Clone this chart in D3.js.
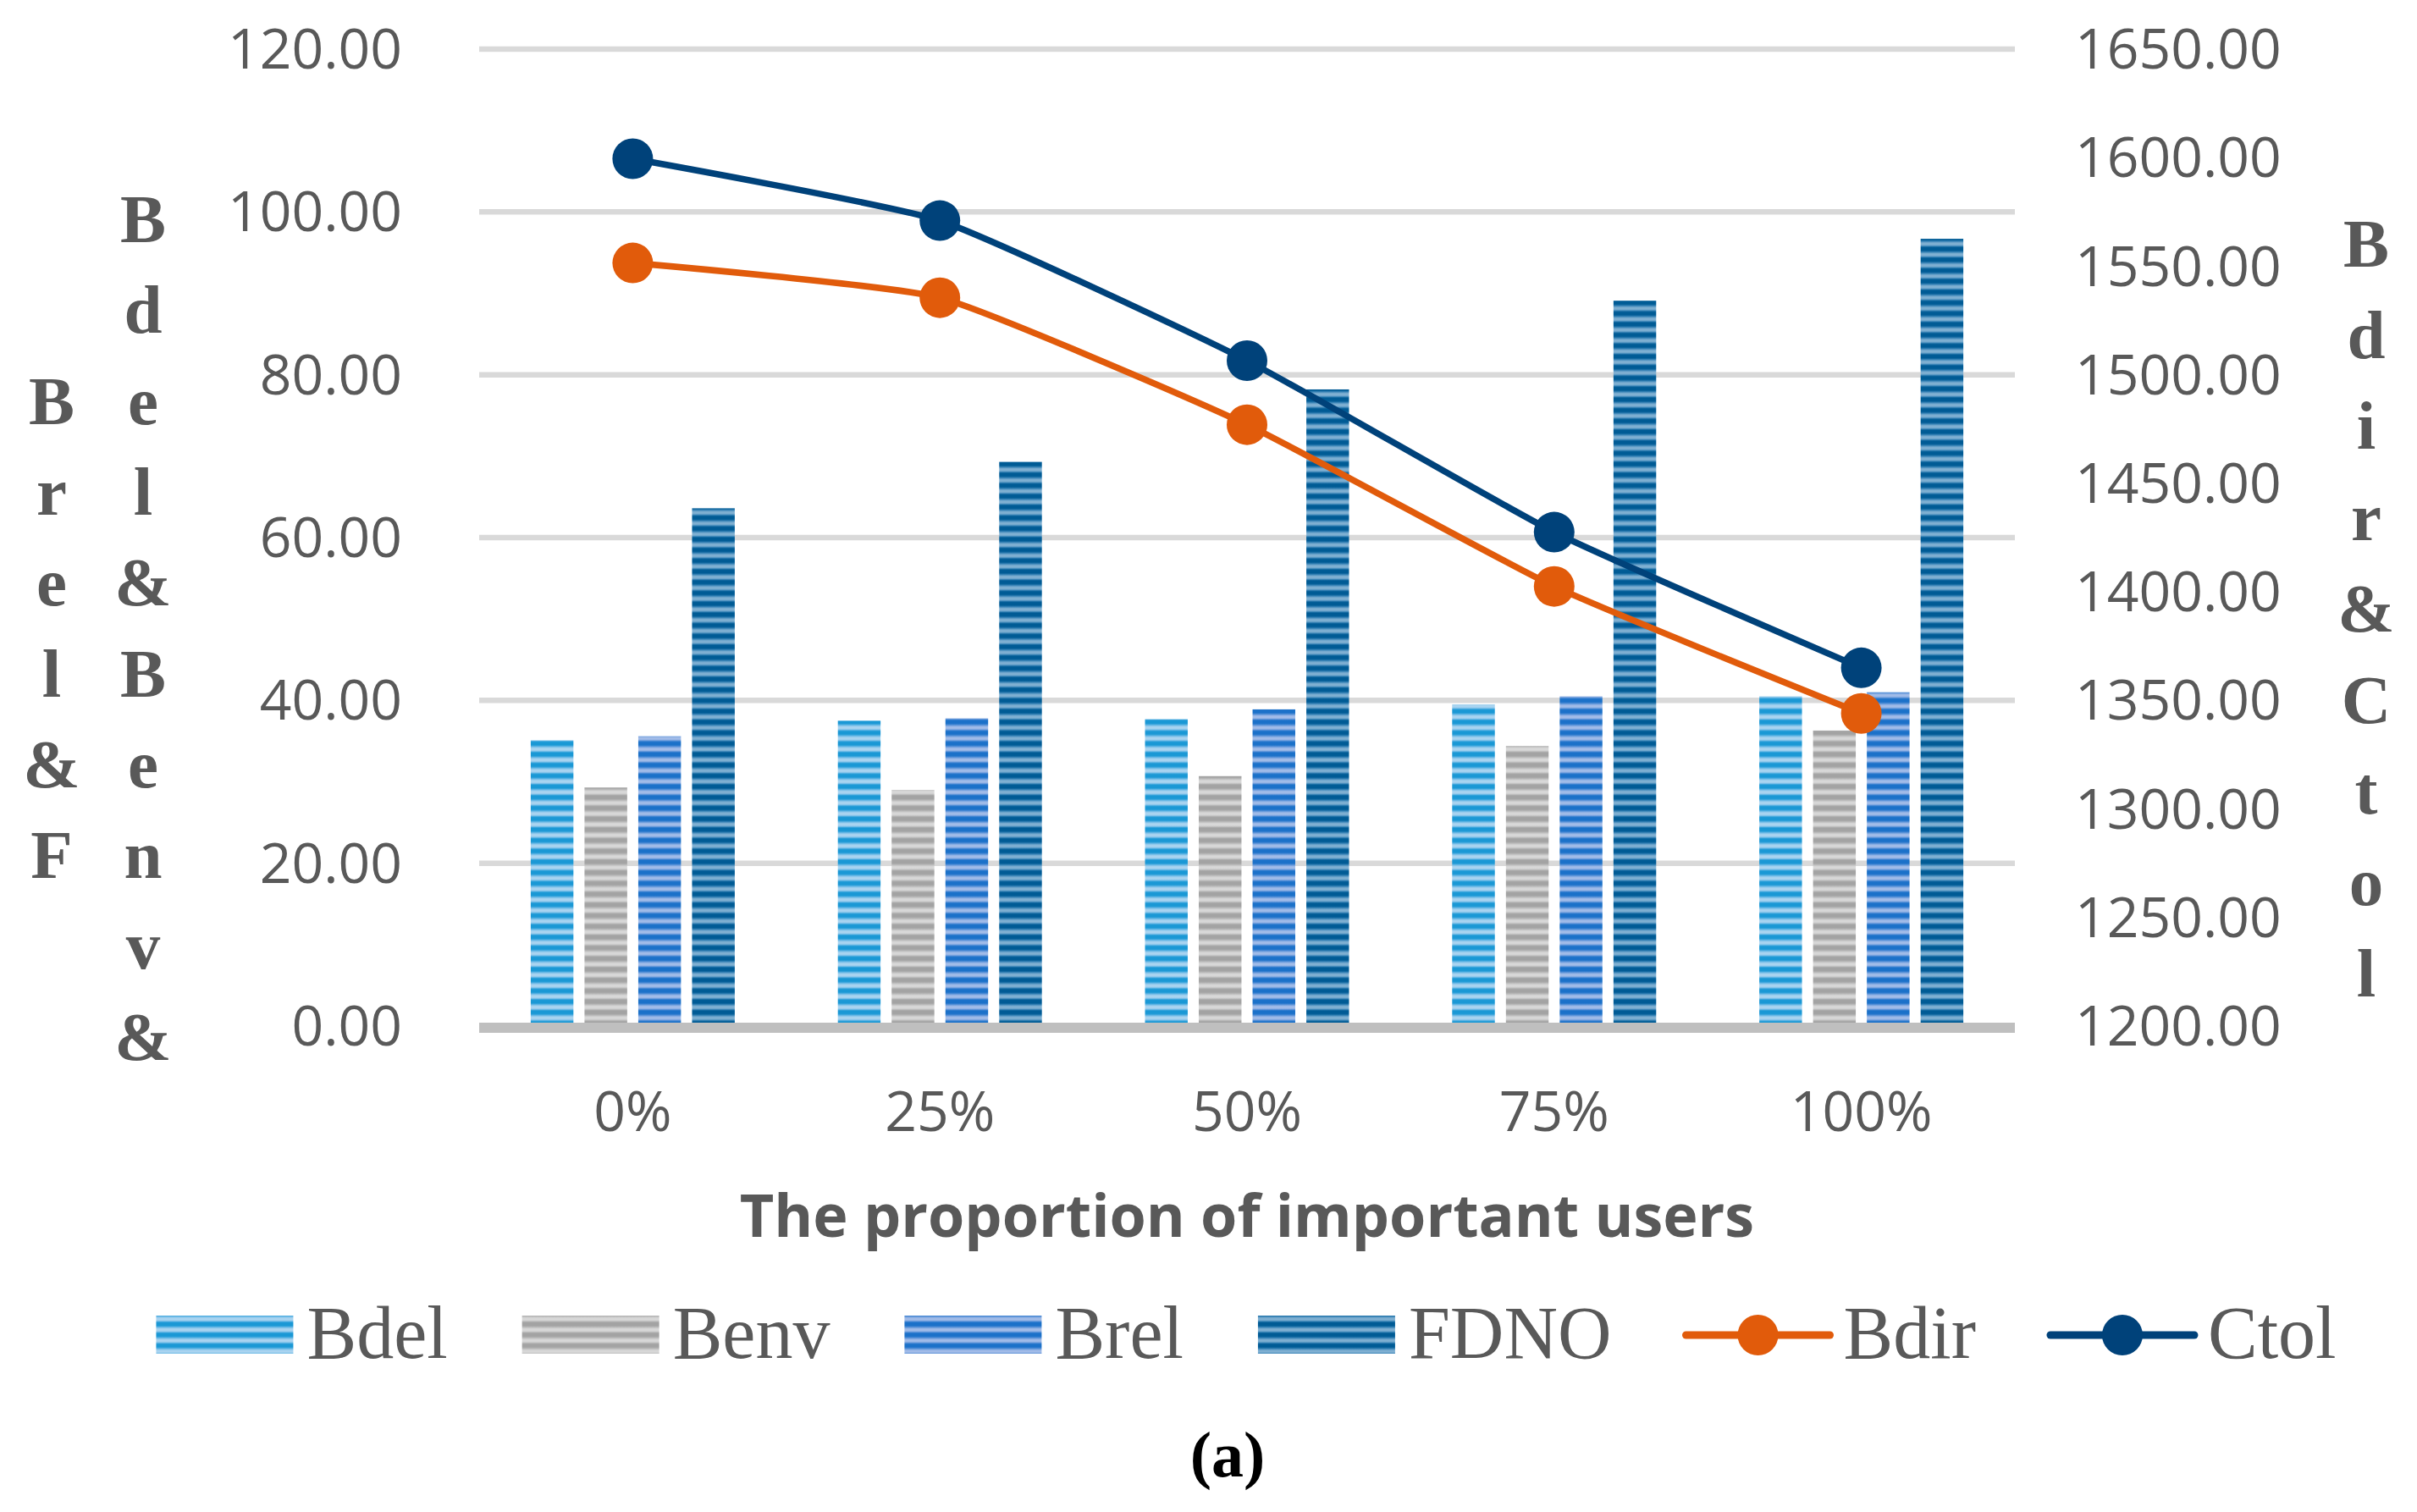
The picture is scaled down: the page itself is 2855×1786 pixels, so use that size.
<!DOCTYPE html>
<meta charset="utf-8">
<head>
<title>Important users chart</title>
<script type="text/javascript" src="https://cdn.jsdelivr.net/npm/d3@7/dist/d3.min.js"></script>
<style>
    body { margin: 0; background: #fff; }
    .tick-label { font-family: "Open Sans", sans-serif; font-size: 66px; fill: #595959; }
    .axis-title { font-family: "Liberation Serif", serif; font-weight: bold; font-size: 81px; fill: #595959; }
    .legend-text { font-family: "Liberation Serif", serif; font-size: 88px; fill: #595959; }
</style>
</head>
<body>
<div id="chart"></div>
<script>

    // data
    var categories = ["0%", "25%", "50%", "75%", "100%"];
    var barSeries = ["Bdel", "Benv", "Brel", "FDNO"];
    var bdel = [35.1, 37.5, 37.7, 39.5, 40.5];
    var benv = [29.3, 29.0, 30.7, 34.4, 36.3];
    var brel = [35.6, 37.8, 38.9, 40.5, 41.0];
    var fdno = [63.6, 69.3, 78.2, 89.1, 96.7];
    var lineSeries = ["Bdir", "Ctol"];
    var bdir = [1551.5, 1535.5, 1477, 1402.5, 1344];
    var ctol = [1599.5, 1571, 1506.5, 1427.5, 1365];
    var leftTicks = [0, 20, 40, 60, 80, 100, 120];
    var rightTicks = [1200, 1250, 1300, 1350, 1400, 1450, 1500, 1550, 1600, 1650];
    var leftTitleCols = ["Brel&F", "Bdel&Benv&"];
    var rightTitle = "Bdir&Ctol";

    var barValues = {Bdel: bdel, Benv: benv, Brel: brel, FDNO: fdno};
    var lineValues = {Bdir: bdir, Ctol: ctol};

    var width = 2855, height = 1786;
    var plot = {left: 566, right: 2380, top: 58, bottom: 1212};

    var svg = d3.select("#chart").append("svg")
        .attr("width", width)
        .attr("height", height);

    // striped fills like the excel texture
    var stripes = {
        Bdel: ["#1a98d5", "#6bb9e6", "#aad4f0"],
        Benv: ["#a3a3a3", "#bdbdbd", "#d8d8d8"],
        Brel: ["#1b71c9", "#5e94d9", "#a2bce8"],
        FDNO: ["#005b95", "#3a85b8", "#80b0d2"]
    };
    var defs = svg.append("defs");
    barSeries.forEach(function (s) {
        var c = stripes[s];
        var g = defs.append("linearGradient").attr("id", "g-" + s)
            .attr("x1", 0).attr("y1", 0).attr("x2", 0).attr("y2", 1);
        [[0, c[0]], [0.3, c[0]], [0.45, c[1]], [0.6, c[2]], [0.78, c[2]], [0.9, c[1]], [1, c[0]]].forEach(function (st) {
            g.append("stop").attr("offset", st[0]).attr("stop-color", st[1]);
        });
        var p = defs.append("pattern").attr("id", "p-" + s)
            .attr("patternUnits", "userSpaceOnUse")
            .attr("width", 20).attr("height", 12.7);
        p.append("rect").attr("width", 20).attr("height", 12.7).attr("fill", "url(#g-" + s + ")");
    });
    var lineColor = {Bdir: "#e15b0b", Ctol: "#00427a"};

    // scales
    var x0 = d3.scaleBand().domain(categories).range([plot.left, plot.right]);
    var x1 = d3.scaleBand().domain(barSeries).range([-120.5, 120.5]).paddingInner(0.206);
    var yLeft = d3.scaleLinear().domain([0, 120]).range([plot.bottom, plot.top]);
    var yRight = d3.scaleLinear().domain([1200, 1650]).range([plot.bottom, plot.top]);
    var cx = function (c) { return x0(c) + x0.bandwidth() / 2; };

    // gridlines
    svg.append("g").selectAll("line")
        .data(leftTicks.slice(1))
        .enter().append("line")
        .attr("x1", plot.left).attr("x2", plot.right)
        .attr("y1", yLeft).attr("y2", yLeft)
        .attr("stroke", "#d9d9d9").attr("stroke-width", 6.5);

    // bars
    var groups = svg.append("g").selectAll("g")
        .data(categories)
        .enter().append("g")
        .attr("transform", function (c) { return "translate(" + cx(c) + ",0)"; });
    groups.selectAll("rect")
        .data(function (c, i) { return barSeries.map(function (s) { return {s: s, v: barValues[s][i]}; }); })
        .enter().append("rect")
        .attr("x", function (d) { return x1(d.s); })
        .attr("width", x1.bandwidth())
        .attr("y", function (d) { return yLeft(d.v); })
        .attr("height", function (d) { return yLeft(0) - yLeft(d.v); })
        .attr("fill", function (d) { return "url(#p-" + d.s + ")"; });

    // category axis line
    svg.append("line")
        .attr("x1", plot.left).attr("x2", plot.right)
        .attr("y1", yLeft(0) + 2).attr("y2", yLeft(0) + 2)
        .attr("stroke", "#bfbfbf").attr("stroke-width", 12);

    // lines, only lightly smoothed
    var line = d3.line()
        .x(function (d, i) { return cx(categories[i]); })
        .y(function (d) { return yRight(d); })
        .curve(d3.curveCardinal.tension(0.55));
    lineSeries.forEach(function (s) {
        svg.append("path")
            .attr("d", line(lineValues[s]))
            .attr("fill", "none")
            .attr("stroke", lineColor[s])
            .attr("stroke-width", 7.5);
        svg.append("g").selectAll("circle")
            .data(lineValues[s])
            .enter().append("circle")
            .attr("cx", function (d, i) { return cx(categories[i]); })
            .attr("cy", yRight)
            .attr("r", 24)
            .attr("fill", lineColor[s]);
    });

    // tick labels
    svg.append("g").selectAll("text")
        .data(leftTicks)
        .enter().append("text")
        .attr("class", "tick-label")
        .attr("x", 475).attr("y", yLeft)
        .attr("dy", "0.35em")
        .attr("text-anchor", "end")
        .text(function (d) { return d3.format(".2f")(d); });
    svg.append("g").selectAll("text")
        .data(rightTicks)
        .enter().append("text")
        .attr("class", "tick-label")
        .attr("x", 2451).attr("y", yRight)
        .attr("dy", "0.35em")
        .text(function (d) { return d3.format(".2f")(d); });
    svg.append("g").selectAll("text")
        .data(categories)
        .enter().append("text")
        .attr("class", "tick-label")
        .attr("x", cx).attr("y", 1336)
        .attr("text-anchor", "middle")
        .text(function (d) { return d; });

    svg.append("text")
        .attr("x", (plot.left + plot.right) / 2).attr("y", 1461)
        .attr("text-anchor", "middle")
        .style("font-family", "'Open Sans', sans-serif")
        .style("font-weight", "bold")
        .style("font-size", "70px")
        .style("fill", "#595959")
        .text("The proportion of important users");

    // stacked axis titles, one letter per row
    function stacked(str, x, y0, step) {
        svg.append("g").selectAll("text")
            .data(str.split(""))
            .enter().append("text")
            .attr("class", "axis-title")
            .attr("x", x)
            .attr("y", function (d, i) { return y0 + i * step; })
            .attr("text-anchor", "middle")
            .text(function (d) { return d; });
    }
    stacked(leftTitleCols[0], 61, 286 + 2 * 107.3, 107.3);
    stacked(leftTitleCols[1], 169, 286, 107.3);
    stacked(rightTitle, 2795, 315, 107.7);

    // legend
    var legend = svg.append("g");
    var lx = 0;
    barSeries.concat(lineSeries).forEach(function (s) {
        var item = legend.append("g").attr("transform", "translate(" + lx + ",0)");
        if (barValues[s]) {
            item.append("rect")
                .attr("x", 0).attr("y", 1554)
                .attr("width", 162).attr("height", 45)
                .attr("fill", "url(#p-" + s + ")");
        } else {
            item.append("line")
                .attr("x1", 0).attr("x2", 170)
                .attr("y1", 1577).attr("y2", 1577)
                .attr("stroke", lineColor[s]).attr("stroke-width", 9)
                .attr("stroke-linecap", "round");
            item.append("circle")
                .attr("cx", 85).attr("cy", 1577).attr("r", 24)
                .attr("fill", lineColor[s]);
        }
        var sw = barValues[s] ? 162 : 170;
        var t = item.append("text")
            .attr("class", "legend-text")
            .attr("x", sw + 16).attr("y", 1604)
            .text(s);
        lx += sw + 16 + t.node().getComputedTextLength() + 88;
    });
    lx -= 88;
    legend.attr("transform", "translate(" + (1472 - lx / 2) + ",0)");

    svg.append("text")
        .attr("x", 1450).attr("y", 1744)
        .attr("text-anchor", "middle")
        .style("font-family", "'Liberation Serif', serif")
        .style("font-weight", "bold")
        .style("font-size", "76px")
        .style("fill", "#000")
        .text("(a)");

</script>
</body>
